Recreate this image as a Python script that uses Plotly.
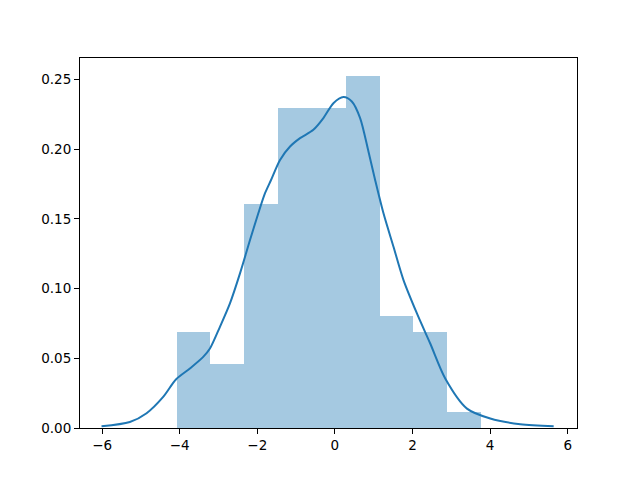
import plotly.graph_objects as go

# Histogram (density) values
bin_left = [-4.08, -3.208, -2.336, -1.464, -0.592, 0.28, 1.152, 2.024, 2.896]
bin_width = 0.872
density = [0.0688, 0.0459, 0.1606, 0.2294, 0.2294, 0.2523, 0.0803, 0.0688, 0.0115]

# KDE curve points
kde_x = [-6.015, -5.285, -4.854, -4.426, -4.098, -3.737, -3.394, -3.221, -2.963, -2.705,
         -2.446, -2.188, -1.974, -1.801, -1.646, -1.414, -1.156, -0.898, -0.555, -0.297,
         -0.039, 0.219, 0.436, 0.650, 0.865, 1.037, 1.252, 1.510, 1.768, 2.114, 2.457,
         2.844, 3.404, 4.005, 4.779, 5.639]
kde_y = [0.0012, 0.0043, 0.0106, 0.0223, 0.0348, 0.0427, 0.0510, 0.0570, 0.0726, 0.0894,
         0.1109, 0.1348, 0.1540, 0.1684, 0.1779, 0.1923, 0.2019, 0.2079, 0.2139, 0.2223,
         0.2330, 0.2374, 0.2342, 0.2223, 0.1983, 0.1779, 0.1540, 0.1300, 0.1061, 0.0822,
         0.0606, 0.0355, 0.0139, 0.0068, 0.0027, 0.0012]

x_ticks = [-6, -4, -2, 0, 2, 4, 6]
y_ticks = [0.0, 0.05, 0.10, 0.15, 0.20, 0.25]

fig = go.Figure()
fig.add_trace(go.Bar(
    x=[l + bin_width / 2 for l in bin_left], y=density, width=bin_width,
    marker=dict(color="rgba(31,119,180,0.4)", line=dict(width=0)),
    showlegend=False, hoverinfo="skip"))
fig.add_trace(go.Scatter(
    x=kde_x, y=kde_y, mode="lines",
    line=dict(color="#1f77b4", width=2, shape="spline", smoothing=0.8),
    showlegend=False))

axis_common = dict(showline=True, linecolor="black", linewidth=1, mirror=True,
                   ticks="outside", ticklen=5, tickwidth=1, tickcolor="black",
                   showgrid=False, zeroline=False,
                   tickfont=dict(family="DejaVu Sans", size=13.5, color="black"))

fig.update_layout(
    width=640, height=480,
    margin=dict(l=72, r=71, t=50, b=60),
    paper_bgcolor="white", plot_bgcolor="white",
    bargap=0,
    xaxis=dict(range=[-6.57, 6.24], tickvals=x_ticks,
               ticktext=[str(t).replace("-", "\u2212") for t in x_ticks], **axis_common),
    yaxis=dict(range=[0, 0.2654], tickvals=y_ticks,
               ticktext=["%.2f" % t for t in y_ticks], **axis_common),
)

fig.write_html("out.html")
